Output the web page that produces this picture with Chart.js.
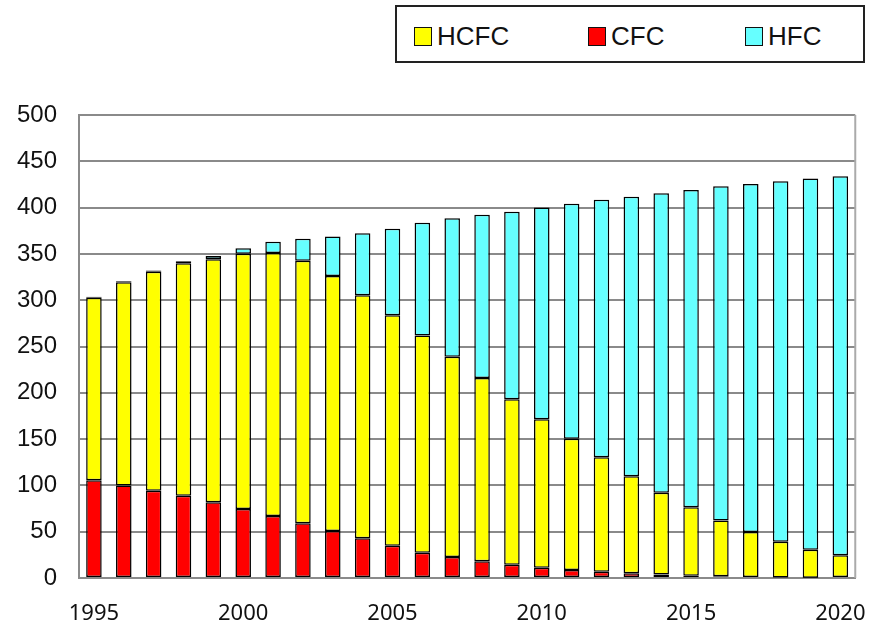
<!DOCTYPE html>
<html>
<head>
<meta charset="utf-8">
<script src="https://cdn.jsdelivr.net/npm/chart.js@4.4.1/dist/chart.umd.min.js"></script>
<style>
  body { margin: 0; background: #fff; }
  #wrap { position: relative; width: 889px; height: 623px; }
  #legend {
    position: absolute; left: 395px; top: 5px; width: 466px; height: 54px;
    border: 2px solid #222; background: #fff;
    font-family: "Liberation Sans", Arial, sans-serif; font-size: 26px; color: #111;
  }
  .item { position: absolute; top: 14px; height: 30px; line-height: 30px; white-space: nowrap; }
  .box { display: inline-block; width: 16px; height: 17px; border: 1.5px solid #111; vertical-align: -1px; margin-right: 5px; }
</style>
</head>
<body>
<div id="wrap">
  <canvas id="myChart" width="889" height="623"></canvas>
  <div id="legend"></div>
</div>
<script>
const years = [1995, 1996, 1997, 1998, 1999, 2000, 2001, 2002, 2003, 2004, 2005, 2006, 2007,
  2008, 2009, 2010, 2011, 2012, 2013, 2014, 2015, 2016, 2017, 2018, 2019, 2020];

const cfc = [105.5, 100, 94.3, 88.9, 81.7, 74.5, 67, 59, 50.7, 42.8, 34.9, 27.4, 22.7,
  18, 14.4, 11.2, 8.6, 6.8, 5, 3.9, 2.5, 1.8, 1, 0.5, 0.2, 0];
const hcfc = [197.2, 219.3, 236.5, 250.9, 262.5, 275.7, 284, 283.5, 275.3, 262.5, 248.8, 234.6, 216.3,
  198, 178.6, 160.3, 141.9, 123.5, 105, 88.1, 74, 60.2, 48.7, 38.7, 30.4, 24.5];
const hfc = [1.1, 1.1, 1.2, 2.2, 3.5, 5.8, 12, 23.8, 42.8, 66.9, 93.5, 121.7, 149.4,
  176.4, 202.6, 228.5, 253.7, 278.2, 301.8, 323.4, 342.5, 361, 375.8, 389.2, 400.7, 409.3];

const yTicks = [0, 50, 100, 150, 200, 250, 300, 350, 400, 450, 500];

// legend order as in the picture, left position of each entry
const legendOrder = ['HCFC', 'CFC', 'HFC'];
const legendLeft = [17, 191, 348];

const plotBorder = {
  id: 'plotBorder',
  beforeDatasetsDraw(chart) {
    const a = chart.chartArea;
    const c = chart.ctx;
    c.save();
    c.strokeStyle = '#aaaaaa';
    c.lineWidth = 2;
    c.beginPath();
    c.moveTo(a.right, a.top);
    c.lineTo(a.right, a.bottom);
    c.stroke();
    c.restore();
  }
};

let ctx = document.getElementById('myChart');
let myChart = new Chart(ctx, {
  type: 'bar',
  data: {
    labels: years,
    datasets: [
      { label: 'CFC', data: cfc, backgroundColor: '#ff0000' },
      { label: 'HCFC', data: hcfc, backgroundColor: '#ffff00' },
      { label: 'HFC', data: hfc, backgroundColor: '#66ffff' }
    ].map(d => Object.assign(d, {
      borderColor: '#000',
      borderWidth: 1.5,
      borderSkipped: false,
      categoryPercentage: 1,
      barPercentage: 0.52
    }))
  },
  options: {
    responsive: false,
    animation: false,
    layout: { padding: { left: 0, right: 26, top: 115, bottom: 0 } },
    plugins: {
      legend: { display: false },
      tooltip: { enabled: false }
    },
    scales: {
      x: {
        stacked: true,
        grid: { display: false, drawTicks: false },
        border: { color: '#8a8a8a', width: 2 },
        ticks: {
          autoSkip: false,
          maxRotation: 0,
          padding: 23,
          color: '#111',
          font: { family: 'Noto Sans', size: 22 },
          callback: function(value, index) {
            const y = years[index];
            return y % 5 === 0 ? String(y) : '';
          }
        },
        afterFit(axis) { axis.height = 45; }
      },
      y: {
        stacked: true,
        min: 0,
        max: 500,
        afterBuildTicks(axis) { axis.ticks = yTicks.map(v => ({ value: v })); },
        grid: { color: '#8a8a8a', lineWidth: 2, drawTicks: false },
        border: { color: '#8a8a8a', width: 2 },
        ticks: {
          padding: 22,
          color: '#111',
          font: { family: 'Liberation Sans', size: 24 }
        },
        afterFit(axis) { axis.width = 79; }
      }
    }
  },
  plugins: [plotBorder]
});

function buildLegend() {
  const box = document.getElementById('legend');
  legendOrder.forEach((name, i) => {
    const ds = myChart.data.datasets.find(d => d.label === name);
    const item = document.createElement('div');
    item.className = 'item';
    item.style.left = legendLeft[i] + 'px';
    const sw = document.createElement('span');
    sw.className = 'box';
    sw.style.background = ds.backgroundColor;
    item.appendChild(sw);
    item.appendChild(document.createTextNode(ds.label));
    box.appendChild(item);
  });
}
buildLegend();
</script>
</body>
</html>
